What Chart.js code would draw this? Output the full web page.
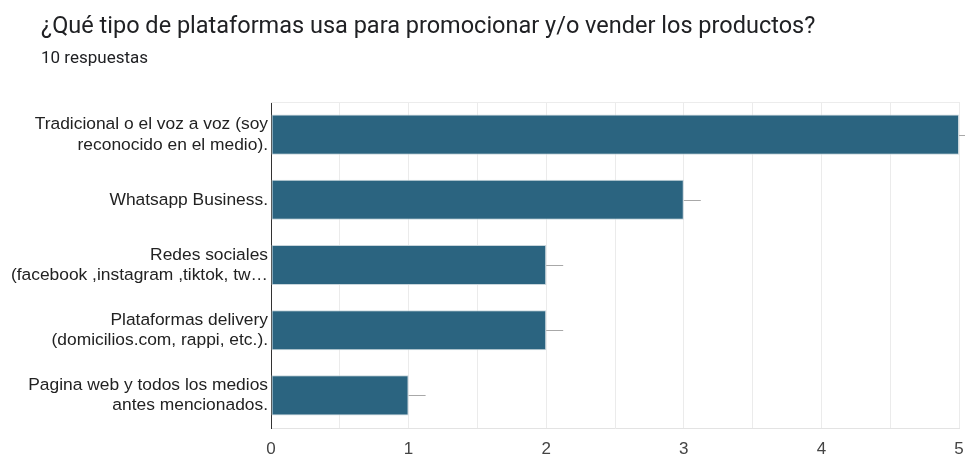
<!DOCTYPE html>
<html>
<head>
<meta charset="utf-8">
<script src="https://cdn.jsdelivr.net/npm/chart.js@4/dist/chart.umd.min.js"></script>
<style>
  html, body { margin: 0; padding: 0; background: #fff; }
  #wrap { position: relative; width: 965px; height: 460px; overflow: hidden; }
  #titulo { position: absolute; left: 41px; top: 11px; font: 23.5px Roboto, sans-serif; color: #202124; white-space: nowrap; }
  #respuestas { position: absolute; left: 41px; top: 47px; font: 17px Roboto, sans-serif; color: #202124; }
  #grafico { position: absolute; left: 0; top: 0; }
</style>
</head>
<body>
<div id="wrap">
  <canvas id="grafico" width="965" height="460"></canvas>
  <div id="titulo">¿Qué tipo de plataformas usa para promocionar y/o vender los productos?</div>
  <div id="respuestas">10 respuestas</div>
</div>
<script>
// Datos de la pregunta
const categorias = [
    ['Tradicional o el voz a voz (soy', 'reconocido en el medio).'],
    'Whatsapp Business.',
    ['Redes sociales', '(facebook ,instagram ,tiktok, tw…'],
    ['Plataformas delivery', '(domicilios.com, rappi, etc.).'],
    ['Pagina web y todos los medios', 'antes mencionados.']
];
const respuestas = [5, 3, 2, 2, 1];
const ticksX = [0, 1, 2, 3, 4, 5];

// Línea gris corta al final de cada barra y borde superior del área
const lineasFinales = {
    id: 'lineasFinales',
    afterDatasetsDraw(chart) {
        const ctx = chart.ctx;
        const area = chart.chartArea;
        ctx.save();
        ctx.strokeStyle = '#ececec';
        ctx.lineWidth = 1;
        ctx.beginPath();
        ctx.moveTo(area.left, area.top + 0.5);
        ctx.lineTo(area.right, area.top + 0.5);
        ctx.stroke();
        ctx.strokeStyle = '#a8a8a8';
        chart.getDatasetMeta(0).data.forEach(bar => {
            const y = Math.round(bar.y) + 0.5;
            ctx.beginPath();
            ctx.moveTo(bar.x, y);
            ctx.lineTo(bar.x + 17, y);
            ctx.stroke();
        });
        ctx.restore();
    }
};

const ctx = document.getElementById('grafico').getContext('2d');
new Chart(ctx, {
    type: 'bar',
    data: {
        labels: categorias,
        datasets: [{
            data: respuestas,
            backgroundColor: '#2b6480',
            borderColor: '#c9d6dc',
            borderWidth: 1,
            borderSkipped: false,
            categoryPercentage: 1,
            barPercentage: 0.615
        }]
    },
    options: {
        indexAxis: 'y',
        responsive: false,
        animation: false,
        layout: { padding: { left: 4, top: 102, right: 6, bottom: 0 } },
        scales: {
            x: {
                min: 0,
                max: 5,
                afterBuildTicks: axis => {
                    const t = [];
                    for (let v = 0; v <= 5; v += 0.5) t.push({ value: v });
                    axis.ticks = t;
                },
                ticks: {
                    autoSkip: false,
                    maxRotation: 0,
                    padding: 11,
                    color: '#444',
                    font: { family: 'Liberation Sans', size: 17 },
                    callback: v => ticksX.includes(v) ? String(v) : ''
                },
                grid: { color: '#ebebeb', drawTicks: false },
                border: { color: '#e3e3e3' },
                afterFit: axis => {
                    axis.height = 32;
                    axis.paddingLeft = 0;
                    axis.paddingRight = 0;
                }
            },
            y: {
                ticks: {
                    padding: 3,
                    color: '#222',
                    font: { family: 'Liberation Sans', size: 17.4, lineHeight: 1.18 }
                },
                grid: { display: false, drawTicks: false },
                border: { color: '#333', width: 1 },
                afterFit: axis => { axis.width = 267; }
            }
        },
        plugins: {
            legend: { display: false },
            tooltip: { enabled: false }
        }
    },
    plugins: [lineasFinales]
});
</script>
</body>
</html>
